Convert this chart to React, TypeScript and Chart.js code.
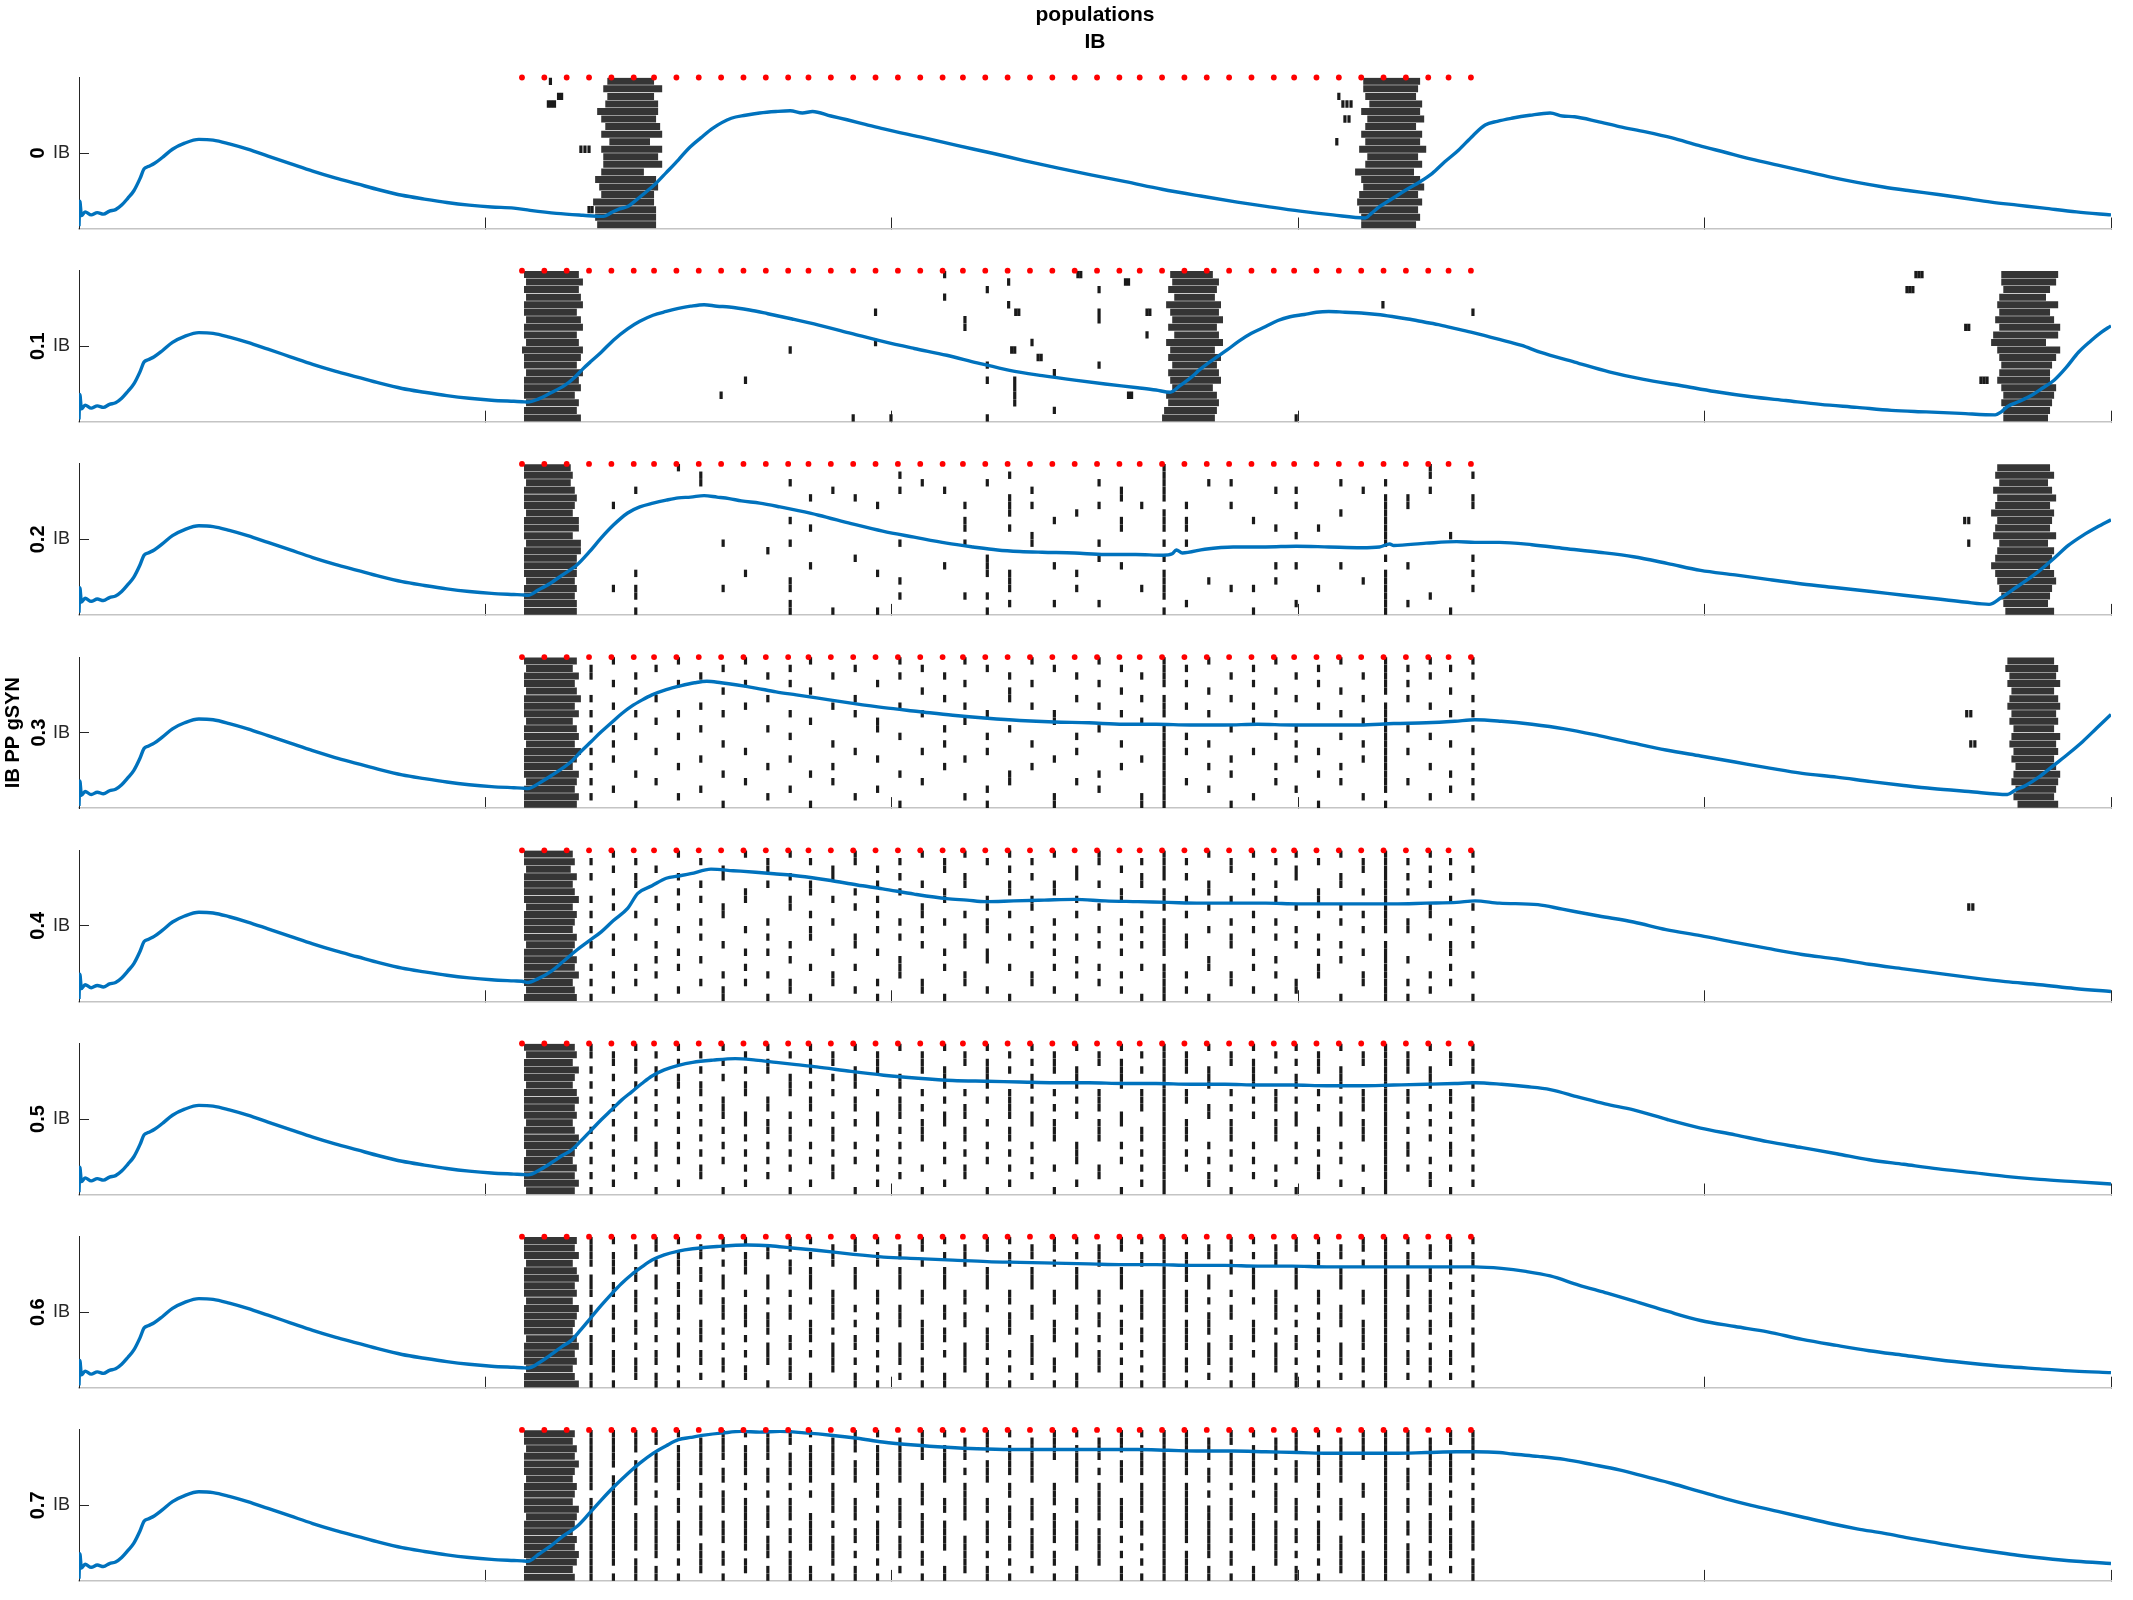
import React, { useEffect, useRef } from "react";
import { Chart, registerables } from "chart.js";
Chart.register(...registerables);

const FONT = "'Liberation Sans', Arial, sans-serif";
Chart.defaults.font.family = FONT;

// ---------- texts ----------
const TITLE_LINES = ["populations", "IB"];
const PANEL_LABELS = ["0", "0.1", "0.2", "0.3", "0.4", "0.5", "0.6", "0.7"];
const Y_AXIS_NAME = "IB PP gSYN";
const Y_TICK_LABEL = "IB";
const NAME_PANEL = 3;

// ---------- axes ----------
const X_TICKS = [0, 200, 400, 600, 800, 1000];
const Y_TICKS = [10];
const ROW_LETTERS = "abcdefghijklmnopqrst"; // 20 neurons, 'a' = top row

// ---------- stimulus pulses (red dots) ----------
const STIM_TIMES = [218, 229, 240, 251, 262, 273, 283, 294, 305, 316, 327, 338, 349, 359, 370, 381, 392, 403, 414, 425, 435, 446, 457, 468, 479, 490, 501, 512, 522, 533, 544, 555, 566, 577, 588, 598, 609, 620, 631, 642, 653, 664, 674, 685];

// ---------- times of spike columns following the pulses ----------
const SPIKE_COLUMN_TIMES = [252, 263, 274, 284, 295, 306, 317, 328, 339, 350, 360, 371, 382, 393, 404, 415, 426, 436, 447, 458, 469, 480, 491, 502, 513, 523, 534, 545, 556, 567, 578, 589, 599, 610, 621, 632, 643, 654, 665, 675, 686];

// ---------- blue trace (shared start before stimulation) ----------
const TRACE_START = [[0, 0.3], [0.4, 3.6], [1.2, 1.7], [3, 2.2], [6, 1.8], [9, 2.1], [12, 1.9], [15, 2.3], [18, 2.5], [21, 3.1], [24, 4.0], [27, 5.0], [30, 6.6], [32, 7.9], [34, 8.2], [37, 8.6], [41, 9.4], [46, 10.5], [52, 11.3], [59, 11.8], [66, 11.7], [74, 11.2], [83, 10.5], [93, 9.6], [104, 8.6], [115, 7.6], [126, 6.7], [137, 5.9], [148, 5.1], [159, 4.4], [170, 3.9], [181, 3.45], [192, 3.1], [203, 2.85], [214, 2.7]];

const TRACE_G00 = [[222, 2.4], [235, 2.0], [248, 1.75], [258, 1.6], [262, 2.1], [266, 2.6], [270, 2.9], [273, 3.5], [278, 4.6], [284, 6.0], [289, 7.4], [295, 9.1], [300, 10.6], [306, 12.0], [312, 13.3], [321, 14.6], [328, 15.0], [335, 15.3], [343, 15.5], [350, 15.6], [356, 15.3], [361, 15.5], [370, 14.9], [378, 14.4], [387, 13.8], [396, 13.2], [416, 12.0], [432, 11.0], [449, 10.0], [465, 9.0], [482, 8.0], [498, 7.1], [515, 6.2], [533, 5.2], [552, 4.3], [570, 3.5], [585, 2.9], [601, 2.3], [617, 1.8], [633, 1.4], [636, 2.0], [640, 2.9], [646, 3.9], [653, 5.1], [660, 6.2], [666, 7.3], [672, 8.8], [679, 10.4], [686, 12.3], [692, 13.7], [698, 14.2], [705, 14.6], [714, 15.0], [724, 15.3], [730, 14.9], [736, 14.8], [747, 14.2], [758, 13.5], [771, 12.8], [784, 12.0], [797, 11.0], [810, 10.1], [823, 9.2], [836, 8.4], [849, 7.6], [862, 6.8], [875, 6.1], [888, 5.5], [901, 5.0], [915, 4.5], [928, 4.0], [941, 3.5], [954, 3.1], [967, 2.7], [983, 2.2], [1000, 1.8]];
const TRACE_G01 = [[218, 2.65], [221, 2.6], [226, 3.0], [232, 3.8], [239, 4.8], [244, 5.9], [248, 7.0], [252, 8.0], [257, 9.2], [263, 10.8], [270, 12.3], [276, 13.3], [282.5, 14.1], [289, 14.6], [295, 15.0], [301, 15.3], [307.6, 15.5], [314, 15.3], [320, 15.2], [330, 14.8], [339, 14.3], [351, 13.6], [364, 12.8], [380, 11.7], [396, 10.6], [411, 9.7], [427, 8.8], [442, 7.8], [458, 6.8], [474, 6.1], [490, 5.5], [505, 5.0], [521, 4.5], [530, 4.2], [537, 3.9], [542, 4.8], [547, 5.8], [552, 7.0], [558, 8.2], [565, 9.5], [571, 10.7], [577, 11.7], [584, 12.6], [590, 13.4], [596, 13.9], [603, 14.2], [609, 14.5], [615, 14.6], [623, 14.5], [631, 14.4], [639, 14.2], [647, 13.9], [654, 13.6], [662, 13.2], [670, 12.8], [678, 12.3], [686, 11.8], [699, 10.9], [710, 10.1], [719, 9.2], [736, 7.9], [753, 6.6], [770, 5.6], [788, 4.8], [805, 4.0], [823, 3.3], [840, 2.8], [857, 2.3], [875, 1.9], [892, 1.5], [909, 1.3], [926, 1.1], [943, 0.9], [946, 1.3], [949, 2.0], [955, 2.7], [961, 3.5], [966, 4.4], [972, 5.5], [978, 7.2], [984, 9.2], [990, 10.7], [995, 11.8], [1000, 12.7]];
const TRACE_G02 = [[218, 2.65], [221, 2.6], [226, 3.3], [232, 4.2], [238, 5.3], [245, 6.6], [251, 8.3], [257, 10.2], [263, 11.9], [270, 13.5], [276, 14.3], [282.5, 14.8], [289, 15.2], [295, 15.5], [301, 15.6], [307.6, 15.8], [314, 15.6], [320, 15.4], [326, 15.1], [335, 14.8], [345, 14.3], [354, 13.8], [364, 13.2], [380, 12.1], [395.5, 11.1], [411, 10.3], [427, 9.5], [440, 9.0], [452, 8.6], [463, 8.4], [474, 8.3], [490, 8.2], [505, 8.0], [520, 8.0], [533.5, 7.9], [538, 8.1], [540, 8.6], [543, 8.2], [554, 8.7], [568, 9.0], [584, 9.0], [599, 9.1], [615, 9.0], [631, 8.9], [640, 9.0], [645, 9.4], [647, 9.2], [663, 9.5], [678, 9.7], [687, 9.6], [699, 9.6], [715, 9.3], [731, 8.8], [748, 8.3], [765, 7.7], [782, 6.8], [798, 5.9], [815, 5.3], [831, 4.7], [848, 4.1], [865, 3.6], [882, 3.1], [898, 2.6], [915, 2.1], [928, 1.7], [940, 1.4], [946, 2.3], [952, 3.4], [958, 4.5], [965, 5.9], [972, 7.5], [979, 9.2], [986, 10.5], [993, 11.6], [1000, 12.6]];
const TRACE_G03 = [[218, 2.65], [221, 2.6], [227, 3.4], [233, 4.4], [238, 5.3], [242, 6.1], [247, 7.5], [252, 8.8], [257, 10.1], [262, 11.3], [267, 12.5], [272, 13.5], [277, 14.3], [282, 15.0], [289, 15.7], [296, 16.2], [303, 16.6], [309, 16.8], [316, 16.6], [324, 16.3], [333, 15.9], [343, 15.4], [353, 15.0], [363, 14.6], [380, 13.9], [396, 13.3], [413, 12.8], [430, 12.3], [447, 11.9], [463, 11.6], [480, 11.4], [497, 11.3], [514, 11.1], [530, 11.1], [547, 11.0], [564, 11.0], [580, 11.1], [597, 11.0], [614, 11.0], [630, 11.0], [647, 11.2], [663, 11.3], [677, 11.5], [687, 11.7], [700, 11.5], [715, 11.1], [731, 10.5], [748, 9.6], [765, 8.6], [781, 7.7], [798, 6.9], [815, 6.1], [832, 5.3], [848, 4.6], [865, 4.1], [882, 3.5], [898, 3.0], [912, 2.6], [930, 2.2], [949, 1.8], [953, 2.4], [958, 3.0], [965, 4.2], [972, 5.7], [979, 7.2], [986, 8.8], [993, 10.6], [1000, 12.4]];
const TRACE_G04 = [[218, 2.65], [221, 2.5], [226, 3.0], [232, 3.9], [238, 5.2], [245, 6.8], [251, 8.0], [257, 9.2], [263, 10.7], [270, 12.3], [275, 14.3], [282, 15.3], [289, 16.3], [295, 16.6], [301, 16.9], [311, 17.5], [322, 17.3], [333, 17.1], [342, 16.9], [351, 16.7], [360, 16.4], [370, 16.0], [383, 15.4], [395.5, 14.9], [411, 14.2], [427, 13.6], [437, 13.4], [446, 13.2], [460, 13.3], [475, 13.4], [490, 13.5], [505, 13.3], [521, 13.2], [536, 13.1], [552, 13.0], [568, 13.0], [584, 13.0], [600, 12.9], [615, 12.9], [631, 12.9], [647, 12.9], [663, 13.0], [678, 13.1], [687, 13.3], [699, 13.0], [718, 12.8], [730, 12.2], [748, 11.3], [765, 10.5], [781, 9.5], [798, 8.7], [815, 7.8], [831, 7.0], [848, 6.2], [865, 5.6], [881, 4.9], [898, 4.3], [915, 3.7], [932, 3.1], [948, 2.6], [965, 2.2], [982, 1.7], [1000, 1.3]];
const TRACE_G05 = [[218, 2.65], [221, 2.6], [227, 3.3], [233, 4.3], [238, 5.2], [242, 5.8], [247, 7.1], [252, 8.5], [257, 9.9], [262, 11.2], [267, 12.5], [272, 13.6], [277, 14.7], [282, 15.7], [288, 16.5], [295, 17.1], [302, 17.5], [312, 17.8], [323, 18.0], [333, 17.8], [343, 17.5], [353, 17.2], [363, 16.9], [380, 16.3], [396, 15.8], [413, 15.4], [430, 15.1], [447, 15.0], [463, 14.9], [480, 14.8], [497, 14.8], [514, 14.7], [530, 14.7], [547, 14.6], [564, 14.6], [580, 14.5], [597, 14.5], [614, 14.4], [630, 14.4], [647, 14.5], [663, 14.6], [677, 14.7], [687, 14.8], [700, 14.6], [712, 14.3], [724, 13.9], [738, 12.9], [751, 12.0], [765, 11.2], [782, 9.9], [798, 8.8], [815, 7.9], [831, 7.0], [848, 6.2], [865, 5.4], [881, 4.6], [898, 4.0], [915, 3.4], [932, 2.9], [948, 2.4], [965, 2.0], [982, 1.7], [1000, 1.4]];
const TRACE_G06 = [[218, 2.65], [221, 2.6], [227, 3.4], [233, 4.5], [238, 5.5], [242, 6.2], [247, 7.7], [252, 9.3], [257, 10.9], [262, 12.4], [267, 13.8], [272, 15.0], [277, 16.0], [282, 16.9], [288, 17.6], [295, 18.1], [302, 18.4], [314, 18.7], [329, 18.9], [340, 18.8], [351, 18.5], [363, 18.2], [380, 17.7], [396, 17.3], [413, 17.1], [430, 16.9], [447, 16.7], [463, 16.6], [480, 16.5], [497, 16.4], [514, 16.3], [530, 16.3], [547, 16.2], [564, 16.2], [580, 16.1], [597, 16.1], [614, 16.0], [630, 16.0], [647, 16.0], [663, 16.0], [677, 16.0], [687, 16.0], [700, 15.8], [712, 15.4], [724, 14.8], [738, 13.6], [751, 12.6], [765, 11.5], [782, 10.1], [798, 8.9], [815, 8.1], [831, 7.4], [848, 6.4], [865, 5.6], [881, 4.9], [898, 4.3], [915, 3.7], [932, 3.2], [948, 2.8], [965, 2.5], [982, 2.2], [1000, 2.0]];
const TRACE_G07 = [[218, 2.65], [221, 2.6], [226, 3.5], [232, 4.6], [238, 5.9], [245, 7.2], [251, 8.9], [257, 10.7], [263, 12.4], [270, 14.2], [276, 15.6], [282.5, 16.9], [289, 17.9], [295, 18.7], [301, 19.0], [307.6, 19.3], [317, 19.6], [326, 19.8], [335, 19.7], [345, 19.8], [357, 19.6], [370, 19.3], [383, 18.9], [395.5, 18.4], [411, 18.0], [427, 17.7], [442, 17.5], [458, 17.4], [474, 17.4], [490, 17.4], [505, 17.4], [521, 17.4], [536, 17.3], [552, 17.2], [568, 17.2], [584, 17.1], [600, 17.0], [615, 16.9], [631, 16.9], [647, 16.9], [663, 17.0], [678, 17.1], [687, 17.1], [699, 17.0], [705.5, 16.8], [718, 16.5], [731, 16.1], [745, 15.4], [758, 14.7], [771, 13.8], [784, 12.9], [797, 11.9], [810, 10.9], [823, 10.0], [836, 9.2], [849, 8.4], [862, 7.6], [875, 6.9], [888.5, 6.3], [902, 5.6], [915, 5.0], [928, 4.4], [941, 3.9], [954, 3.4], [967, 3.0], [983, 2.6], [1000, 2.3]];

// ---------- population bursts: per-row start (l) and end (r) times ----------
const BURSTS_G00 = [
  { l: [260, 258, 260, 259, 255, 257, 259, 257, 261, 257, 258, 258, 257, 254, 256, 257, 253, 254, 254, 255], r: [283, 287, 283, 285, 285, 284, 286, 287, 281, 287, 285, 287, 278, 284, 285, 283, 283, 284, 284, 284] },
  { l: [632, 632, 633, 635, 631, 634, 633, 631, 633, 630, 634, 633, 628, 631, 632, 630, 629, 630, 631, 631], r: [660, 659, 658, 661, 660, 662, 658, 661, 660, 663, 659, 661, 657, 660, 662, 659, 661, 659, 660, 658] },
];
const BURSTS_G01 = [
  { l: [219, 220, 219, 220, 219, 219, 220, 219, 219, 220, 218, 219, 219, 220, 219, 219, 219, 220, 219, 219], r: [246, 248, 246, 247, 248, 245, 247, 248, 245, 246, 248, 247, 245, 248, 246, 247, 244, 246, 245, 247] },
  { l: [537, 538, 536, 539, 535, 537, 538, 536, 539, 535, 537, 536, 538, 536, 537, 538, 535, 536, 534, 533], r: [558, 561, 560, 559, 562, 561, 563, 560, 561, 563, 559, 562, 560, 561, 562, 558, 560, 561, 560, 559] },
  { l: [946, 946, 947, 945, 944, 945, 943, 945, 942, 941, 944, 945, 946, 945, 944, 946, 947, 946, 947, 947], r: [974, 973, 970, 968, 974, 970, 972, 975, 974, 968, 975, 973, 971, 970, 970, 973, 972, 971, 970, 969] },
];
const BURSTS_G02 = [
  { l: [219, 219, 220, 219, 219, 219, 220, 219, 219, 219, 220, 219, 219, 219, 219, 220, 219, 219, 219, 219], r: [242, 243, 242, 244, 245, 244, 243, 246, 246, 243, 247, 247, 245, 245, 245, 244, 245, 244, 245, 245] },
  { l: [944, 943, 945, 942, 944, 943, 941, 944, 943, 942, 945, 944, 943, 941, 943, 944, 945, 946, 947, 948], r: [970, 972, 969, 971, 973, 970, 972, 971, 970, 973, 969, 972, 971, 970, 972, 973, 971, 970, 969, 972] },
];
const BURSTS_G03 = [
  { l: [219, 220, 219, 219, 220, 219, 219, 219, 220, 219, 219, 220, 219, 219, 219, 219, 220, 219, 219, 219], r: [245, 243, 246, 244, 245, 247, 244, 246, 243, 245, 246, 244, 247, 245, 243, 246, 245, 244, 246, 245] },
  { l: [949, 948, 950, 949, 951, 950, 949, 951, 950, 952, 951, 950, 952, 951, 953, 952, 951, 953, 952, 954], r: [972, 974, 973, 975, 972, 974, 975, 973, 974, 972, 975, 973, 974, 972, 973, 975, 974, 973, 972, 974] },
];
const BURSTS_G04 = [
  { l: [219, 219, 220, 219, 219, 219, 219, 220, 219, 219, 219, 219, 220, 219, 219, 219, 219, 219, 220, 219], r: [243, 244, 242, 245, 243, 244, 246, 243, 245, 244, 243, 245, 244, 243, 245, 244, 246, 243, 244, 245] },
];
const BURSTS_G05 = [
  { l: [219, 220, 219, 219, 219, 220, 219, 219, 219, 219, 220, 219, 219, 219, 220, 219, 219, 219, 219, 220], r: [244, 245, 243, 246, 244, 243, 245, 246, 244, 245, 243, 244, 246, 245, 244, 243, 245, 244, 246, 244] },
];
const BURSTS_G06 = [
  { l: [219, 219, 219, 220, 219, 219, 219, 219, 220, 219, 219, 219, 219, 220, 219, 219, 219, 220, 219, 219], r: [245, 244, 246, 243, 245, 246, 244, 245, 243, 246, 245, 244, 243, 245, 246, 244, 245, 243, 244, 246] },
];
const BURSTS_G07 = [
  { l: [219, 219, 220, 219, 219, 219, 220, 219, 219, 219, 219, 220, 219, 219, 219, 219, 219, 220, 219, 219], r: [244, 243, 245, 244, 246, 244, 243, 245, 244, 243, 246, 245, 244, 243, 245, 244, 246, 245, 243, 244] },
];

// ---------- spike rows (letters) fired in each column of SPIKE_COLUMN_TIMES ----------
const COLUMNS_G02 = ["", "fq", "doqrt", "", "a", "bc", "kq", "o", "l", "chkpqst", "ein", "dt", "em", "fot", "bdkpr", "c", "dn", "fhikr", "cmnort", "befgiopqs", "dfjk", "hns", "goq", "cfkms", "dehin", "fq", "abcdeghikmopqrt", "fhiks", "cp", "cfq", "hqt", "dinp", "dfjns", "iq", "cgn", "dp", "cefghijkmopqrst", "efns", "abdr", "jt", "befmoq"];
const COLUMNS_G03 = ["bcfhjmoqs", "adgjlnr", "cehkpt", "bfimq", "adhkos", "cgjnr", "behlpt", "adgmq", "cfjos", "bdhknr", "aeipt", "cgloq", "bfhms", "dijnr", "acgkpt", "behmq", "cfjlo", "adgins", "bhkmrt", "cefjpq", "adglo", "bhinst", "cfkmq", "adgjpr", "behlo", "cfinst", "abcdfghjklmnopqrst", "bdgkmq", "aehlor", "cfjnpt", "bdgims", "aehkoq", "cfjlnr", "bdgmpt", "aehkoq", "cfilns", "abcdeghijklmnopqrt", "bdfjmq", "acgkos", "behlpr", "acfhjmoqs"];
const COLUMNS_G04 = ["bdgikmprt", "acfhlnqs", "bdeilpr", "cgjmoqt", "adfhknps", "begjlor", "cdhimqst", "afgknpr", "bcejlnqt", "adghmors", "befiklpt", "cdgjnqr", "abfhlmps", "cegiknrt", "bdfjlopq", "aehikmrs", "bcfgjnpt", "adeilmqr", "bghjknos", "acefilpt", "bdghkmqr", "aefjlnps", "cdgiloqt", "abehkmpr", "cfgjlnqs", "bdeikmpt", "abcdfghjklmnpqrst", "bdgilmqs", "aefhkopt", "bcgjlmqr", "adfiknps", "begjloqt", "acdhkmrs", "bfgilnpq", "adehjmot", "bcfiknqr", "abcdefghijkmnopqrst", "bdfjkort", "acehilqs", "bdgjmnpr", "acfhkmqt"];
const COLUMNS_G05 = ["abdfhjlnprt", "bcegikmoqs", "acdfhjlmpr", "bdegiknoqt", "acefhjlnps", "bdfgikmoqr", "acehijlnpt", "bdfgjkmoqs", "acdhiklnpr", "befgjlmoqt", "acdfhiknps", "bcegjlmoqr", "adefhiknpt", "bcdgjkmoqs", "aefhijlnpr", "bcdgiklmqt", "adefhjknps", "bcgijlmoqr", "acdefhknpt", "bdghijlmoqs", "acefhjknpr", "bcdgiklmqt", "adefhjnops", "bcghiklmqr", "acdefjknpt", "bdghilmoqs", "abcdefghijklmnopqrst", "bcdghklmoq", "adefijnprs", "bcgiklmoqt", "acdefhjnpr", "bdghiklmqs", "acefhjknpt", "bcdgilmoqr", "adefhjknps", "bcghiklmqt", "abcdefghijklmnopqrst", "bcdghjlnoq", "adefikmprs", "bcghjlnoqt", "acdfhikmoqs"];
const COLUMNS_G06 = ["abcdfghjklnopqst", "acdeghjkmnpqrt", "bcefhijlmoqrs", "abdfgiklnpqst", "acdeghjkmoprt", "bcefhilmnpqs", "abdfgijkmoqrt", "acdehjklnprs", "bcfgiklmopqt", "abdehjknoqrs", "acefgilmnpst", "bcdhijkmopqr", "abefgjlnoqst", "acdhikmnprt", "bcefgjklopqs", "abdhilmnoqrt", "acefgjkmnpst", "bcdhiklopqr", "abefgjmnoqst", "acdhiklmprt", "bcefgjknopqs", "abdhilmnqrt", "acefgjkmopst", "bcdhiklnpqr", "abefgjlmoqst", "acdhijkmnprt", "abcdefghijklmnopqrst", "acdefhijlmnoqrt", "bcfgiklmopqs", "abdehjknoqrt", "acefgilmnpst", "bcdhijkmopqr", "abefgjlnoqst", "acdhikmnprt", "bcefgjklopqs", "abdhilmnoqrt", "abcdefghijklmnopqrst", "acdfghjkmnpqs", "bcefhijlmoqrt", "abdegiklnpqs", "acdfhjkmoprt"];
const COLUMNS_G07 = ["abcdefghjklmnopqrst", "abcdeghijklmnopqrt", "abcefghijlmnoprst", "abdefgiklmnopqst", "acdefghjkmnoprt", "bcdefhiklmnpqrs", "abcdfgijkmnoqrt", "acdefhjklmnoprs", "abcdfgiklmopqst", "abdefhjklnoqrst", "acdefgilmnopst", "bcdefhijkmopqrt", "abcefgjklnoqst", "acdefhikmnoprt", "bcdefgjklmopqs", "abcdhijlmnoqrt", "acdefgjkmnopst", "bcdfhijklopqrs", "abcefgjkmnoqst", "acdefhiklmoprt", "bcdefgjklnopqs", "abcdhijlmnoqrt", "acdefgjkmnopst", "bcdfhijklnopqr", "abcefgjklmoqst", "acdefhijkmnprt", "abcdefghijklmnopqrst", "abcdefhijklmnoqrst", "bcdfgiklmnopqst", "abdefhjklnoqrt", "acdefgilmnopst", "bcdfhijkmnopqr", "abcefgjklnoqst", "acdefhikmnoprt", "bcdefgjklopqrs", "abcdhilmnoqrst", "abcdefghijklmnopqrst", "abcdfghjkmnpqrs", "bcdefhijlmnoqrt", "abdefgiklnopqs", "abcdfhjkmnoprst"];

// ---------- isolated spikes: [time, rows] ----------
const SPIKES_G00 = [[231, "d"], [232, "a"], [232.5, "d"], [234, "d"], [236, "c"], [237.5, "c"], [247, "j"], [249, "j"], [251, "jr"], [252.5, "r"], [619, "i"], [620, "c"], [622, "d"], [623, "f"], [624, "d"], [625, "f"], [626, "d"]];
const SPIKES_G01 = [[316, "q"], [328, "o"], [350, "k"], [381, "t"], [392, "fj"], [399.6, "t"], [426, "ad"], [436, "gh"], [447, "cmot"], [457.5, "be"], [459, "k"], [460.5, "kopqr"], [461, "f"], [462.5, "f"], [469, "j"], [472, "l"], [473.5, "l"], [480, "ns"], [491.6, "a"], [493, "a"], [502, "cfgm"], [515, "b"], [516.5, "bq"], [518, "q"], [525.6, "fi"], [527, "f"], [599, "t"], [641.7, "e"], [686, "f"], [899.6, "c"], [901, "c"], [902.5, "c"], [904, "a"], [905.5, "a"], [907, "a"], [928.5, "h"], [930, "h"], [936, "o"], [937.5, "o"], [939, "o"]];
const SPIKES_G02 = [[928, "h"], [930, "hk"]];
const SPIKES_G03 = [[929, "h"], [931, "hl"], [933, "l"]];
const SPIKES_G04 = [[930, "h"], [932, "h"]];
const SPIKES_G05 = [];
const SPIKES_G06 = [];
const SPIKES_G07 = [];

const TRACES = [TRACE_G00, TRACE_G01, TRACE_G02, TRACE_G03, TRACE_G04, TRACE_G05, TRACE_G06, TRACE_G07];
const BURSTS = [BURSTS_G00, BURSTS_G01, BURSTS_G02, BURSTS_G03, BURSTS_G04, BURSTS_G05, BURSTS_G06, BURSTS_G07];
const COLUMNS = [null, null, COLUMNS_G02, COLUMNS_G03, COLUMNS_G04, COLUMNS_G05, COLUMNS_G06, COLUMNS_G07];
const SPIKES = [SPIKES_G00, SPIKES_G01, SPIKES_G02, SPIKES_G03, SPIKES_G04, SPIKES_G05, SPIKES_G06, SPIKES_G07];

// ---------- layout (pixels) ----------
const W = 2133;
const AX_LEFT = 79;
const AX_RIGHT = 2111;
const TOP0 = 77.5;
const STEP = 193.2;
const PANEL_H = 151;
const PAD = 40;

function rowValue(ch: string) {
  return 19.5 - ROW_LETTERS.indexOf(ch);
}

function geom(k: number) {
  if (k === 0) {
    const h = Math.ceil(TOP0 + PANEL_H + PAD);
    return { top: 0, h, padTop: 0, padBottom: h - TOP0 - PANEL_H };
  }
  const pt = TOP0 + STEP * k;
  const top = Math.floor(pt) - PAD;
  const padTop = pt - top;
  const h = Math.ceil(padTop + PANEL_H + PAD);
  return { top, h, padTop, padBottom: h - padTop - PANEL_H };
}

function buildConfig(k: number): any {
  const g = geom(k);
  const trace = TRACE_START.concat(TRACES[k]).map(([x, y]) => ({ x, y }));
  const dots = STIM_TIMES.map((t) => ({ x: t, y: 20 }));
  const spikes: any[] = [];
  const cols = COLUMNS[k];
  if (cols) {
    cols.forEach((rows, i) => {
      for (const ch of rows) spikes.push({ x: SPIKE_COLUMN_TIMES[i], y: rowValue(ch) });
    });
  }
  SPIKES[k].forEach(([t, rows]: any) => {
    for (const ch of rows) spikes.push({ x: t, y: rowValue(ch) });
  });
  const bursts: any[] = [];
  BURSTS[k].forEach((b) => {
    for (let r = 0; r < ROW_LETTERS.length; r++) {
      const y = rowValue(ROW_LETTERS[r]);
      bursts.push({ x: b.l[r], y });
      bursts.push({ x: b.r[r], y });
      bursts.push({ x: b.r[r], y: null });
    }
  });

  return {
    type: "line",
    data: {
      datasets: [
        { label: "pulses", data: dots, showLine: false, pointRadius: 2.9, pointBackgroundColor: "#ff0000", pointBorderWidth: 0, clip: false, order: 0 },
        { label: "IB", data: trace, borderColor: "#0072BD", borderWidth: 3.4, pointRadius: 0, cubicInterpolationMode: "monotone", fill: false, order: 1 },
        { label: "spikes", data: spikes, showLine: false, pointStyle: "line", pointRotation: 90, pointRadius: 3.7, pointBorderWidth: 3.2, pointBorderColor: "#1a1a1a", order: 2 },
        { label: "bursts", data: bursts, borderColor: "#353535", borderWidth: 7.0, borderCapStyle: "butt", pointRadius: 0, spanGaps: false, order: 3 },
      ],
    },
    options: {
      responsive: false,
      animation: false,
      devicePixelRatio: 1,
      events: [],
      layout: { padding: { left: 0, right: W - AX_RIGHT, top: g.padTop, bottom: g.padBottom } },
      plugins: {
        legend: { display: false },
        tooltip: { enabled: false },
        title: k === 0
          ? { display: true, text: TITLE_LINES, fullSize: false, color: "#000", font: { size: 21, weight: "bold", family: FONT, lineHeight: 1.3 }, padding: { top: 1.35, bottom: 21.55 } }
          : { display: false },
      },
      scales: {
        x: {
          type: "linear",
          min: X_TICKS[0],
          max: X_TICKS[X_TICKS.length - 1],
          afterBuildTicks: (s: any) => { s.ticks = X_TICKS.map((v) => ({ value: v })); },
          ticks: { display: false },
          grid: { display: true, drawOnChartArea: false, drawTicks: true, tickLength: -11, tickColor: "#262626", tickWidth: 1 },
          border: { display: true, color: "#c4c4c4", width: 1.5 },
          afterFit: (s: any) => { s.height = 0; },
        },
        y: {
          type: "linear",
          min: 0,
          max: 20,
          afterBuildTicks: (s: any) => { s.ticks = Y_TICKS.map((v) => ({ value: v })); },
          ticks: { callback: () => Y_TICK_LABEL, font: { size: 18, family: FONT }, color: "#262626", padding: 19, autoSkip: false },
          grid: { display: true, drawOnChartArea: false, drawTicks: true, tickLength: -10, tickColor: "#262626", tickWidth: 1 },
          border: { display: true, color: "#262626", width: 1 },
          title: {
            display: true,
            text: k === NAME_PANEL ? [Y_AXIS_NAME, PANEL_LABELS[k]] : PANEL_LABELS[k],
            color: "#000",
            font: { size: 20, weight: "bold", family: FONT, lineHeight: 1.3 },
            padding: { top: k === NAME_PANEL ? 0 : 25.5, bottom: 0 },
          },
          afterFit: (s: any) => { s.width = AX_LEFT; },
        },
      },
    },
  };
}

export default function App() {
  const refs = useRef<(HTMLCanvasElement | null)[]>([]);
  useEffect(() => {
    const charts = PANEL_LABELS.map((_, k) => new Chart(refs.current[k] as HTMLCanvasElement, buildConfig(k)));
    return () => charts.forEach((c) => c.destroy());
  }, []);
  return (
    <div style={{ position: "absolute", left: 0, top: 0, width: W, height: 1600, background: "#fff" }}>
      {PANEL_LABELS.map((_, k) => {
        const g = geom(k);
        return (
          <canvas
            key={k}
            ref={(el) => { refs.current[k] = el; }}
            width={W}
            height={g.h}
            style={{ position: "absolute", left: 0, top: g.top, width: W, height: g.h }}
          />
        );
      })}
    </div>
  );
}
